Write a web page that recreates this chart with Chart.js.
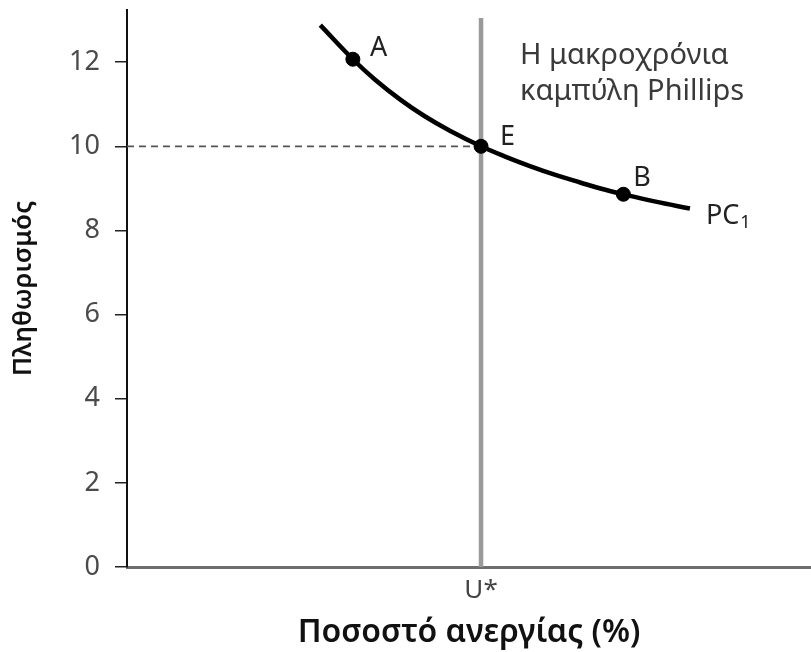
<!DOCTYPE html>
<html>
<head>
<meta charset="utf-8">
<script src="https://cdn.jsdelivr.net/npm/chart.js@4.4.1/dist/chart.umd.min.js"></script>
<style>
html,body{margin:0;padding:0;background:#fff;}
#wrap{width:811px;height:652px;}
</style>
</head>
<body>
<div id="wrap"><canvas id="c" width="811" height="652"></canvas></div>
<script>
// Phillips curve PC1 (unemployment, inflation)
const curveX = [2.73, 3.19, 3.50, 3.86, 4.20, 4.56, 5.00, 5.35, 5.69, 6.05, 6.40, 6.70, 7.01, 7.45, 7.95];
const curveY = [12.88, 12.07, 11.59, 11.11, 10.72, 10.37, 10.00, 9.75, 9.53, 9.32, 9.14, 8.99, 8.86, 8.69, 8.52];
// marked points
const pointNames = ['A', 'E', 'B'];
const pointX = [3.19, 5.0, 7.01];
const pointY = [12.07, 10.0, 8.86];
// natural rate of unemployment
const naturalRate = 5.0;
const naturalRateLabel = 'U*';
const lrpcTop = 13.05;
const yTicks = [0, 2, 4, 6, 8, 10, 12];
const yMax = 13.24;
const xMax = 9.66;
const curveName = 'PC';
const curveSub = '1';
const lrpcText = ['Η μακροχρόνια', 'καμπύλη Phillips'];
const xTitle = 'Ποσοστό ανεργίας (%)';
const yTitle = 'Πληθωρισμός';

const FONT = "'Noto Sans', 'DejaVu Sans', sans-serif";

const labelPlugin = {
  id: 'labels',
  afterDatasetsDraw(chart) {
    const ctx = chart.ctx;
    const xs = chart.scales.x, ys = chart.scales.y;
    ctx.save();
    ctx.fillStyle = '#222';
    ctx.font = '27px ' + FONT;
    ctx.textBaseline = 'middle';
    ctx.textAlign = 'left';
    const offs = [[17, -11], [19, -9], [10, -16]];
    pointNames.forEach((n, i) => {
      ctx.fillText(n, xs.getPixelForValue(pointX[i]) + offs[i][0], ys.getPixelForValue(pointY[i]) + offs[i][1]);
    });
    const lx = xs.getPixelForValue(curveX[curveX.length - 1]);
    const ly = ys.getPixelForValue(curveY[curveY.length - 1]);
    ctx.fillText(curveName, lx + 16, ly + 8);
    const w = ctx.measureText(curveName).width;
    ctx.font = '18px ' + FONT;
    ctx.fillText(curveSub, lx + 17 + w, ly + 14);
    ctx.font = '29px ' + FONT;
    ctx.fillStyle = '#3a3a3a';
    const tx = xs.getPixelForValue(naturalRate) + 39;
    lrpcText.forEach((t, i) => ctx.fillText(t, tx, ys.getPixelForValue(12.15) + i * 36));
    ctx.restore();
  }
};

new Chart(document.getElementById('c'), {
  type: 'scatter',
  data: {
    datasets: [
      {
        data: [{x: 0, y: 10}, {x: naturalRate, y: 10}],
        showLine: true, borderColor: '#555', borderWidth: 1.8, borderDash: [7, 5],
        pointRadius: 0, order: 4
      },
      {
        data: [{x: naturalRate, y: 0}, {x: naturalRate, y: lrpcTop}],
        showLine: true, borderColor: '#9a9a9a', borderWidth: 4.5,
        pointRadius: 0, order: 3
      },
      {
        data: curveX.map((x, i) => ({x, y: curveY[i]})),
        showLine: true, borderColor: '#000', borderWidth: 4.5, tension: 0.4,
        pointRadius: 0, order: 2
      },
      {
        data: pointX.map((x, i) => ({x, y: pointY[i]})),
        pointRadius: 7, pointBackgroundColor: '#000', pointBorderColor: '#000', order: 1
      }
    ]
  },
  options: {
    responsive: false,
    animation: false,
    layout: {autoPadding: false, padding: {top: 10, right: 0, left: 0, bottom: 0}},
    plugins: {legend: {display: false}, tooltip: {enabled: false}},
    scales: {
      x: {
        type: 'linear', min: 0, max: xMax,
        afterFit(s) { s.height = 85; s.paddingLeft = 0; s.paddingRight = 0; },
        afterBuildTicks(s) { s.ticks = [{value: naturalRate}]; },
        ticks: {
          callback: () => naturalRateLabel,
          color: '#444', font: {family: FONT, size: 26}, padding: 8, maxRotation: 0
        },
        grid: {display: true, drawOnChartArea: false, drawTicks: false, color: 'rgba(0,0,0,0)'},
        border: {color: '#6e6e6e', width: 3},
        title: {
          display: true, text: xTitle, color: '#111',
          font: {family: FONT, size: 32, weight: '600'}, padding: {top: 0, bottom: 0}
        }
      },
      y: {
        type: 'linear', min: 0, max: yMax,
        afterFit(s) { s.width = 127; s.paddingTop = 0; s.paddingBottom = 0; },
        afterBuildTicks(s) { s.ticks = yTicks.map(v => ({value: v})); },
        ticks: {color: '#4a4a4a', font: {family: FONT, size: 27}, padding: 15},
        grid: {display: true, drawOnChartArea: false, drawTicks: true, tickLength: 12, color: '#222', lineWidth: 1.5},
        border: {color: '#111', width: 2},
        title: {
          display: true, text: yTitle, color: '#111',
          font: {family: FONT, size: 26, weight: '600'}, padding: {top: 8, bottom: 0}
        }
      }
    }
  },
  plugins: [labelPlugin]
});
</script>
</body>
</html>
